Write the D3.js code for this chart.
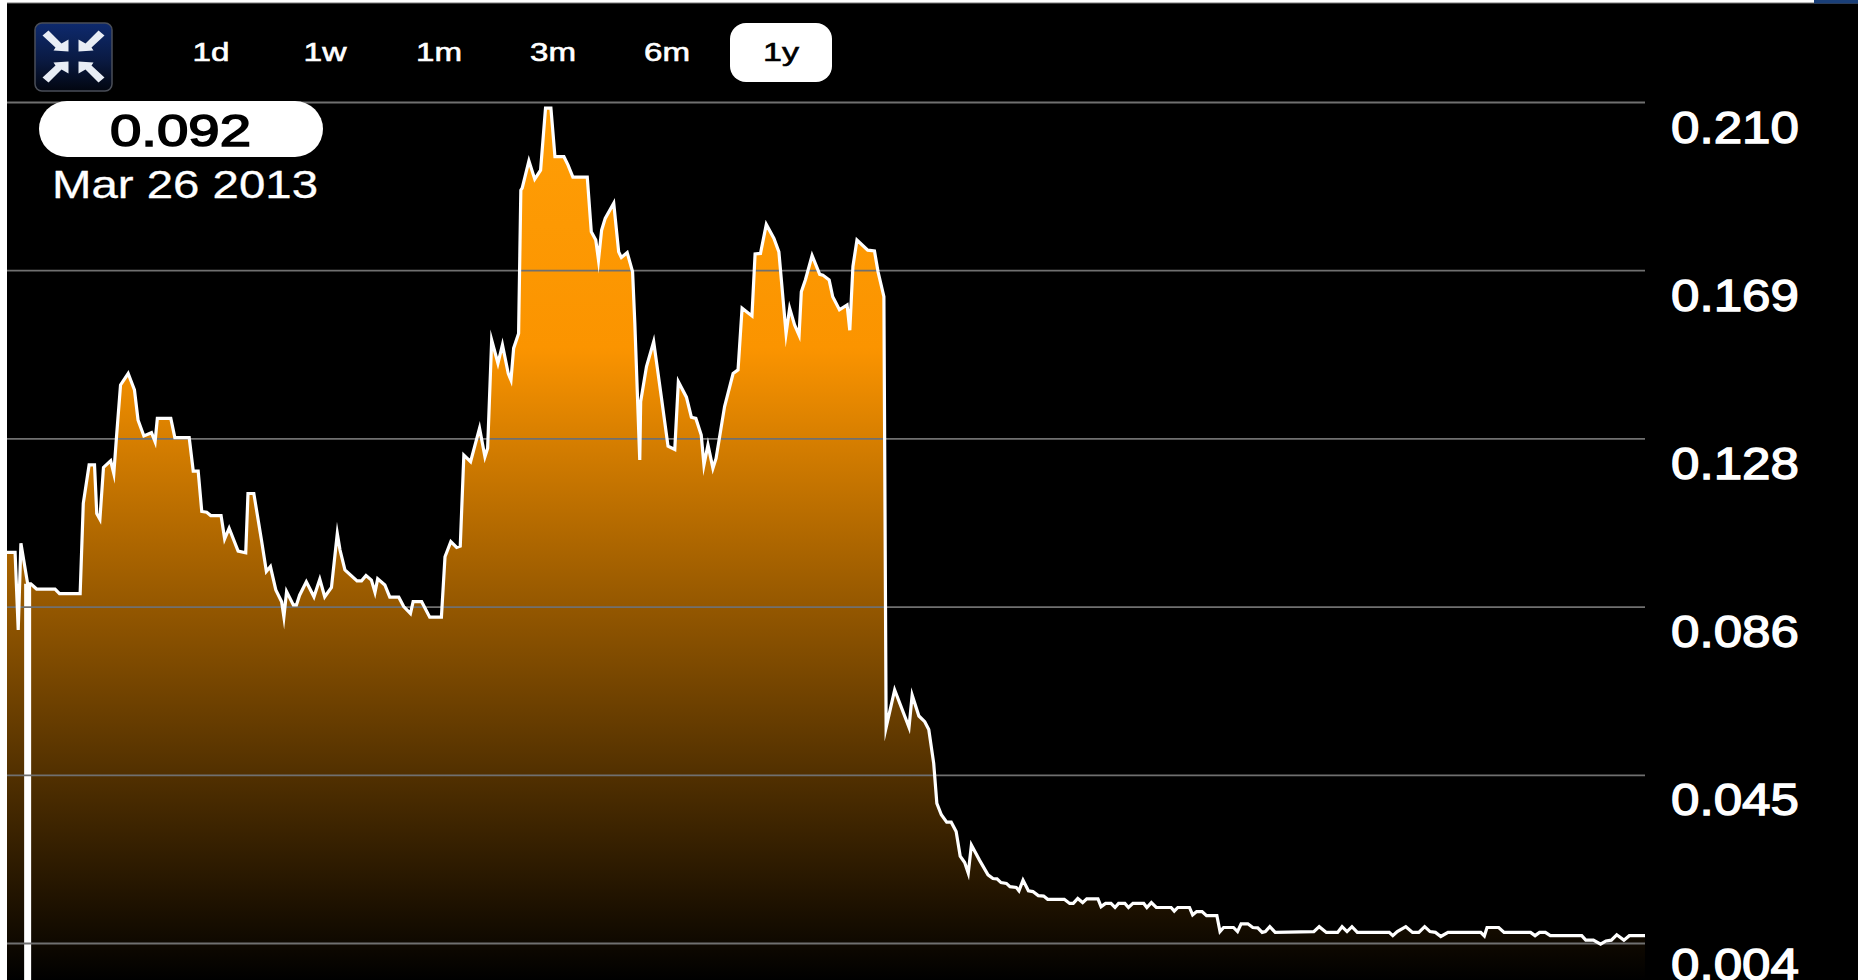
<!DOCTYPE html>
<html>
<head>
<meta charset="utf-8">
<title>Price, 1 year</title>
<script src="https://cdn.jsdelivr.net/npm/d3@7/dist/d3.min.js"></script>
<style>
  html, body { margin: 0; padding: 0; background: #fff; overflow: hidden; }
  svg { display: block; font-family: "Liberation Sans", Arial, Helvetica, sans-serif; }
</style>
</head>
<body>
<div id="chart"></div>
<script>
// Days since the start of the one-year window, and the closing price on each.
const days = [
  0,1.8,2.5,3.1,4.6,5.3,6.6,10.7,11.7,16.3,17,18.3,19.5,20,20.7,21.5,23.1,23.8,24.4,25.3,
  27,28.4,29.2,30.5,32.2,33,33.5,36.5,37.4,40.6,41.5,42.6,43.4,44.5,45.4,47.7,48.5,49.5,51.5,53.2,
  53.7,55,56.7,57.8,58.7,59.9,61.2,61.7,62.3,63.8,64.5,65.2,66.7,68.4,69.7,70.8,72.3,73.6,74.2,75.3,
  78,79,80,81.2,82,82.6,84.2,85.3,87.3,88.4,89.9,90.5,92.4,94.2,96.8,97.6,98.9,100.2,101,101.8,
  103.3,105.3,106.5,107.1,108,109.4,110.4,111.7,112.3,112.9,114,114.5,114.8,116.3,117.6,118.9,120,121.2,122.1,124.1,
  125,126.1,129.3,130.2,131.2,131.8,132.5,133.3,135.2,136.3,136.9,138.2,139.4,139.9,141,141.2,142.5,144.1,145.8,147.3,
  148.8,149.6,151.4,152.5,153.5,154.7,155.3,156.2,157.3,158,159.9,161.8,162.9,163.8,166,166.7,167.9,169.2,170.9,172,
  173.6,174.4,175.5,176.5,177,177.9,179.4,181.1,181.8,183.2,184,185.5,187.2,187.8,188.5,189.4,191.8,193.3,194.1,195.4,
  195.9,197.8,201,201.7,203.2,204.5,205.4,206.5,207.2,208.2,209.4,210.4,211.5,212.4,213.4,214.2,214.9,216.7,218.6,219.7,
  220.6,221.5,222.7,223.5,224.9,225.5,226.4,227.6,228.6,229.8,231,231.9,235.6,236.8,237.6,238.6,239.7,240.6,243.1,243.8,
  244.8,246,246.9,247.7,249.1,249.9,250.9,253.3,254,255,256.1,259.4,260.1,260.9,263.5,264.2,265.1,266.3,267.3,269.6,
  270.3,271.1,273.3,274.2,275,276.5,277.6,278.7,279.7,280.4,281.4,282.6,291.2,292.4,294,296.5,297.5,298.6,299.7,300.9,
  308,308.8,309.8,311.7,313.2,314.6,315.9,317.1,318.3,319.5,321.1,328.4,329.2,329.8,332.4,333.6,339.5,340.5,341.5,342.8,
  343.9,350.9,351.8,353.5,355.1,356.3,357.5,358.7,360.3,361.5,365
];
const prices = [
  .0997,.0997,.0807,.1019,.092,.092,.0907,.0907,.0896,.0896,.1117,.1211,.1211,.1092,.1078,.1205,.1221,.119,.128,.1407,
  .1435,.1395,.1321,.1282,.129,.1268,.1325,.1325,.1278,.1278,.1196,.1196,.1097,.1095,.1087,.1087,.103,.1056,.1,.0996,
  .1141,.1141,.1027,.095,.0962,.0905,.0876,.0839,.0901,.0868,.0868,.0892,.0925,.0888,.0931,.0888,.0911,.1043,.1003,.0954,
  .0927,.0927,.094,.0929,.0899,.0932,.0917,.0887,.0887,.0864,.0847,.0876,.0876,.0838,.0838,.0986,.1023,.1009,.1012,.1235,
  .1219,.1301,.1231,.1252,.1517,.146,.1505,.1435,.1419,.1497,.1533,.1884,.1889,.1956,.1911,.1933,.2085,.2085,.1966,.1966,
  .1946,.1916,.1916,.1782,.1762,.1713,.1786,.1815,.1852,.1733,.1719,.1731,.1684,.1558,.1223,.1366,.1452,.1513,.1378,.1257,
  .1249,.1415,.1377,.1328,.1325,.1284,.1211,.126,.1203,.1227,.1354,.1435,.1444,.1595,.1576,.1728,.1729,.18,.1766,.1733,
  .1533,.1595,.1554,.1529,.1635,.1664,.1724,.1678,.1676,.1664,.1623,.1591,.1603,.1541,.1697,.1762,.1737,.1735,.1684,.1623,
  .0568,.066,.0568,.0647,.0596,.0582,.0563,.048,.0382,.0354,.0336,.0336,.0313,.0253,.0237,.0211,.028,.0243,.0207,.0198,
  .0197,.0188,.0186,.0178,.0176,.0168,.0194,.0168,.0166,.0156,.0155,.0147,.0147,.0137,.0137,.0149,.0139,.0148,.0148,.0129,
  .0137,.0137,.0127,.0137,.0137,.0127,.0137,.0137,.0127,.0139,.0127,.0127,.0118,.0127,.0127,.0109,.0117,.0117,.0107,.0107,
  .0068,.0078,.0078,.0068,.0087,.0087,.0078,.0077,.0066,.0068,.008,.0066,.0068,.008,.0066,.0066,.008,.0068,.008,.0066,
  .0066,.0058,.0068,.008,.0066,.0066,.008,.0068,.0066,.0056,.0066,.0066,.0057,.0078,.0078,.0066,.0066,.0058,.0066,.0066,
  .0058,.0058,.0047,.0047,.0037,.0045,.0047,.006,.0047,.0058,.0058
];

// Horizontal rules of the price axis, printed to three decimals.
const axisTicks = [0.21, 0.1688, 0.1276, 0.0864, 0.0452, 0.004];

// Range selector.
const rangeLabels = ["1d", "1w", "1m", "3m", "6m", "1y"];
const activeRange = "1y";

// Crosshair readout.
const cursorDay = 4.6;
const cursorPrice = 0.092;
const cursorDate = "Mar 26 2013";

const width = 1869, height = 980;
const plot = { left: 7, right: 1645, top: 102, bottom: 943 };

const x = d3.scaleLinear().domain([0, 365]).range([plot.left, plot.right]);
const y = d3.scaleLinear().domain([0.004, 0.21]).range([plot.bottom, plot.top]);

const series = days.map((d, i) => ({ day: d, price: prices[i] }));

const svg = d3.select("#chart").append("svg")
  .attr("width", width).attr("height", height);

// Black panel inside the white page edge, with the thin rule and blue tab on top.
svg.append("rect").attr("x", plot.left).attr("y", 3)
  .attr("width", 1858 - plot.left).attr("height", height - 3).attr("fill", "#000");
svg.append("rect").attr("x", plot.left).attr("y", 2.5)
  .attr("width", 1858 - plot.left).attr("height", 1).attr("fill", "#777");
svg.append("rect").attr("x", 1814).attr("y", 0)
  .attr("width", 44).attr("height", 3.5).attr("fill", "#1a3f78");

const defs = svg.append("defs");

const areaFill = defs.append("linearGradient").attr("id", "areaFill")
  .attr("gradientUnits", "userSpaceOnUse")
  .attr("x1", 0).attr("x2", 0).attr("y1", plot.top).attr("y2", height);
areaFill.selectAll("stop")
  .data([[0, "#ff9e06"], [0.28, "#fb9400"], [1, "#000000"]])
  .join("stop")
  .attr("offset", d => d[0]).attr("stop-color", d => d[1]);

const iconFill = defs.append("linearGradient").attr("id", "iconFill")
  .attr("x1", 0).attr("x2", 0).attr("y1", 0).attr("y2", 1);
iconFill.selectAll("stop")
  .data([[0, "#0e2a6e"], [0.55, "#0a1a42"], [1, "#020610"]])
  .join("stop")
  .attr("offset", d => d[0]).attr("stop-color", d => d[1]);

// Filled area under the price line.
const area = d3.area()
  .x(d => x(d.day)).y0(height).y1(d => y(d.price));
svg.append("path").datum(series)
  .attr("d", area).attr("fill", "url(#areaFill)");

// Crosshair from the selected price down to the bottom edge.
svg.append("line")
  .attr("x1", x(cursorDay)).attr("x2", x(cursorDay))
  .attr("y1", y(cursorPrice)).attr("y2", height)
  .attr("stroke", "#fff").attr("stroke-width", 7);

// Price axis: the ticks double as grid rules across the plot.
const axis = svg.append("g")
  .attr("transform", `translate(${plot.right},0)`)
  .call(d3.axisRight(y)
    .tickValues(axisTicks)
    .tickFormat(d3.format(".3f"))
    .tickSize(-(plot.right - plot.left)));
axis.select(".domain").remove();
axis.attr("font-family", null).attr("font-size", null);
axis.selectAll("line").attr("stroke", "#707070").attr("stroke-width", 1.8);
// The lowest label sits closer to its rule so it stays on the panel.
axis.selectAll("text")
  .attr("x", 26).attr("dy", d => d === 0.004 ? 36 : 40)
  .attr("font-size", 44)
  .attr("text-anchor", "start")
  .attr("fill", "#fff")
  .attr("stroke", "#fff").attr("stroke-width", 1.3)
  .attr("textLength", 128).attr("lengthAdjust", "spacingAndGlyphs");

// Price line.
const line = d3.line().x(d => x(d.day)).y(d => y(d.price));
svg.append("path").datum(series)
  .attr("d", line)
  .attr("fill", "none")
  .attr("stroke", "#fff").attr("stroke-width", 3.2)
  .attr("stroke-linejoin", "miter").attr("stroke-miterlimit", 10);

// Collapse button: four arrows pointing at the centre.
const icon = svg.append("g").attr("transform", "translate(73.5,56.5)");
icon.append("rect")
  .attr("x", -38.5).attr("y", -33.5).attr("width", 77).attr("height", 68).attr("rx", 7)
  .attr("fill", "url(#iconFill)").attr("stroke", "#4a4e58").attr("stroke-width", 1.5);
icon.selectAll("path")
  .data([[1, 1], [-1, 1], [1, -1], [-1, -1]])
  .join("path")
  .attr("d", "M-5,-5 L-5,-17 L-12,-13 L-25,-26 L-31,-21 L-18,-9 L-20,-6 Z")
  .attr("fill", "#e8edf5")
  .attr("transform", d => `scale(${d[0]},${d[1]})`);

// Range selector buttons.
const rangeCentres = d3.scalePoint().domain(rangeLabels).range([211, 781]);
const rangeWidth = { "1d": 37, "1w": 43, "1m": 46, "3m": 46, "6m": 46, "1y": 36 };
svg.append("rect")
  .attr("x", rangeCentres(activeRange) - 51).attr("y", 23)
  .attr("width", 102).attr("height", 59).attr("rx", 16)
  .attr("fill", "#fff");
svg.append("g").selectAll("text")
  .data(rangeLabels)
  .join("text")
  .attr("x", d => rangeCentres(d) - rangeWidth[d] / 2)
  .attr("y", 61)
  .attr("font-size", 26)
  .attr("textLength", d => rangeWidth[d]).attr("lengthAdjust", "spacingAndGlyphs")
  .attr("fill", d => d === activeRange ? "#000" : "#fff")
  .attr("stroke", d => d === activeRange ? "#000" : "#fff").attr("stroke-width", 0.6)
  .text(d => d);

// Readout of the value under the crosshair.
svg.append("rect")
  .attr("x", 39).attr("y", 101).attr("width", 284).attr("height", 56).attr("rx", 28)
  .attr("fill", "#fff");
svg.append("text")
  .attr("x", 110).attr("y", 146)
  .attr("font-size", 45).attr("fill", "#000")
  .attr("stroke", "#000").attr("stroke-width", 1.6)
  .attr("textLength", 141).attr("lengthAdjust", "spacingAndGlyphs")
  .text(d3.format(".3f")(cursorPrice));
svg.append("text")
  .attr("x", 52).attr("y", 198)
  .attr("font-size", 39).attr("fill", "#fff")
  .attr("stroke", "#fff").attr("stroke-width", 0.3)
  .attr("textLength", 266).attr("lengthAdjust", "spacingAndGlyphs")
  .text(cursorDate);
</script>
</body>
</html>
